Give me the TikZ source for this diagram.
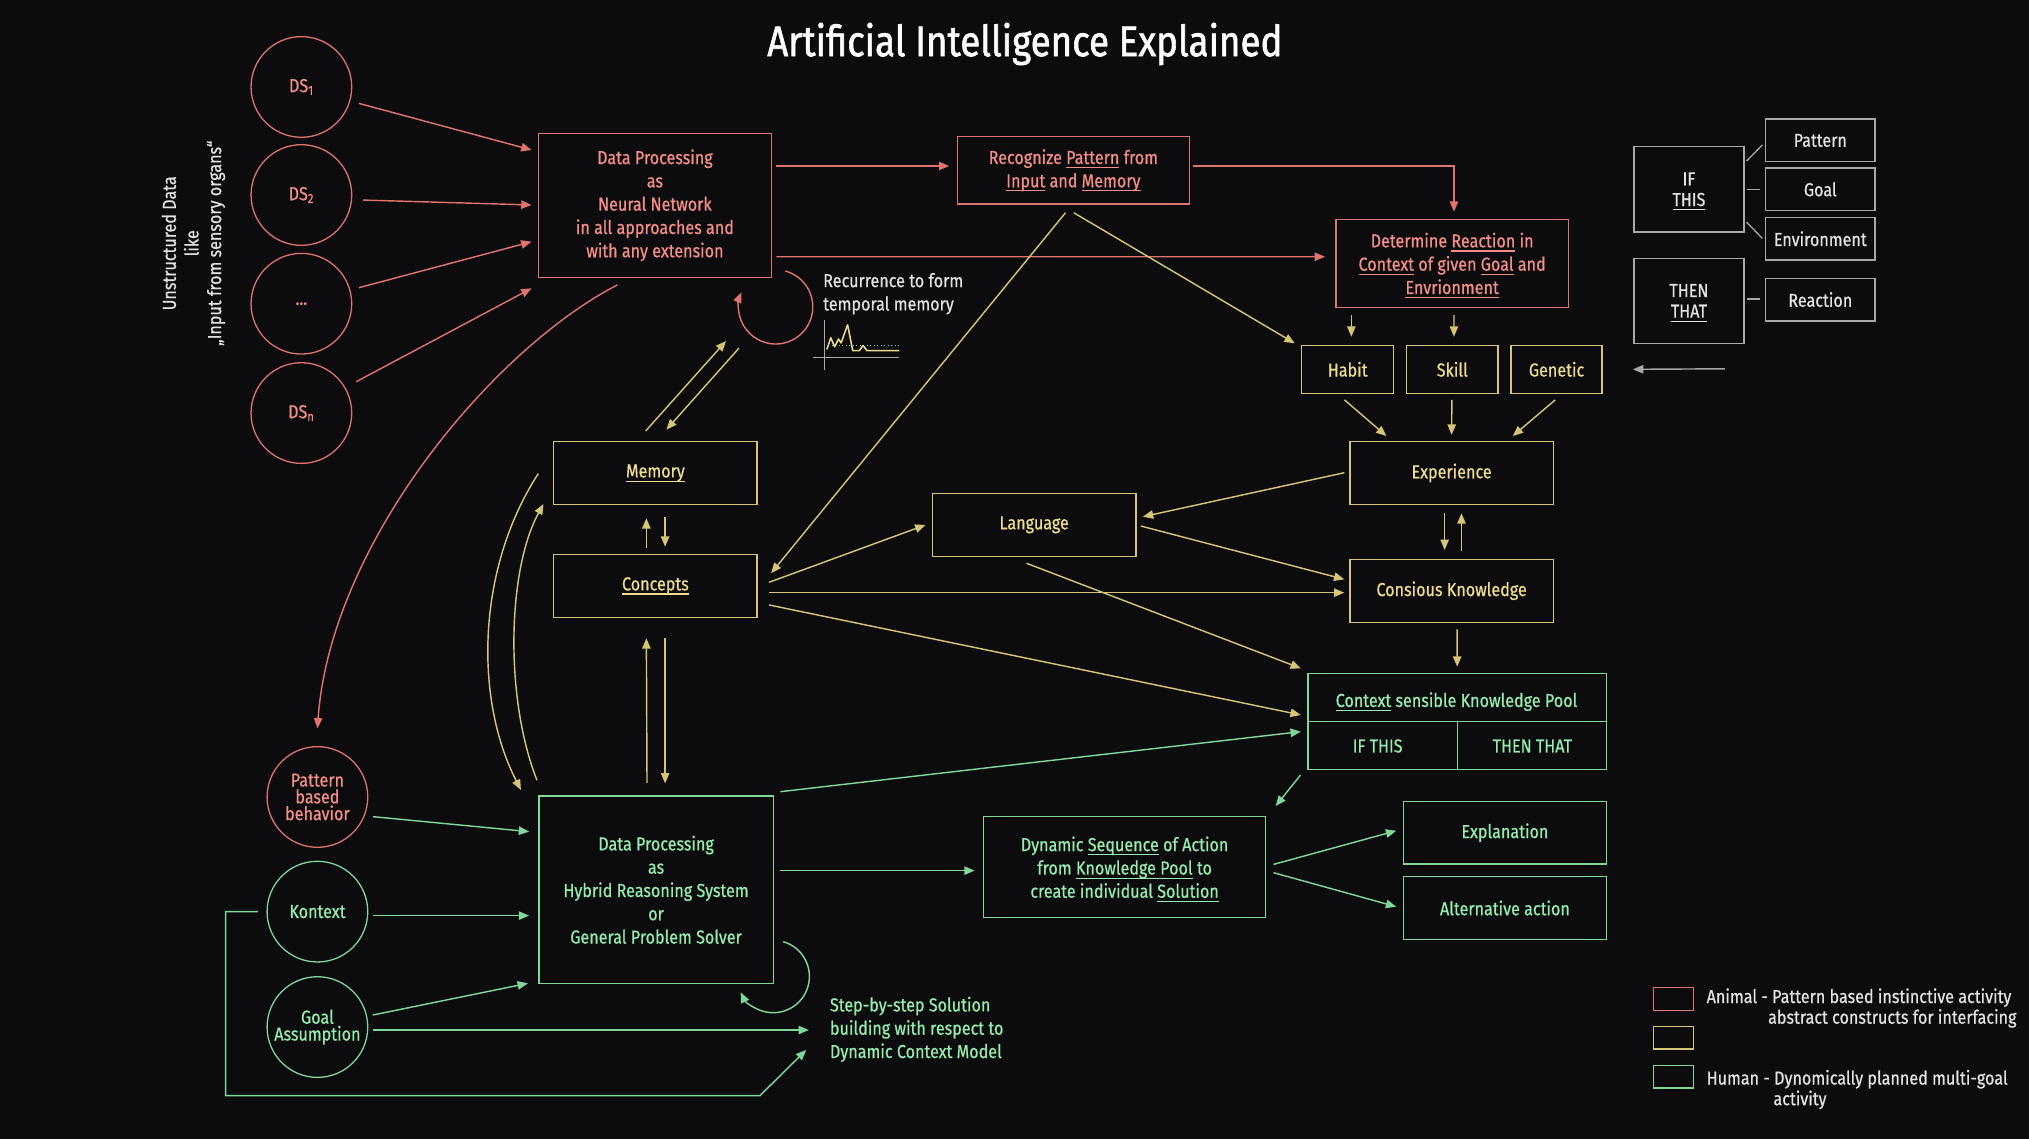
\documentclass[tikz,border=0pt]{standalone}
\usepackage{fontspec}
\setmainfont{Fira Sans}[FakeStretch=0.86, FakeBold=0.7]
\newfontfamily\titlefont{Fira Sans}[FakeStretch=0.86, FakeBold=1.4]
\usetikzlibrary{arrows.meta}
\definecolor{bgc}{HTML}{0C0C0E}
\definecolor{rl}{HTML}{E0736D}
\definecolor{rt}{HTML}{F48E86}
\definecolor{yl}{HTML}{D6C577}
\definecolor{yt}{HTML}{EEDC8E}
\definecolor{gl}{HTML}{7FD89A}
\definecolor{gt}{HTML}{94EDAE}
\definecolor{gyl}{HTML}{A8A8A8}
\definecolor{gyt}{HTML}{E2E2E2}
\newsavebox\ulbox
\newcommand\ulx[1]{\sbox\ulbox{#1}\rlap{\smash{\rule[-3.2pt]{\wd\ulbox}{0.8pt}}}\usebox\ulbox}
\begin{document}
\begin{tikzpicture}[x=1pt,y=-1pt,
 tip/.style={-{Triangle[length=8pt,width=6.5pt]}},
 txt/.style={font=\fontsize{14.5}{18}\selectfont, align=center, inner sep=0pt},
 rbox/.style={txt, draw=rl, line width=1pt, text=rt},
 ybox/.style={txt, draw=yl, line width=1pt, text=yt},
 gbox/.style={txt, draw=gl, line width=1pt, text=gt},
 wbox/.style={txt, draw=gyl, line width=1pt, text=gyt},
 rcirc/.style={rbox, circle, minimum size=77.8},
 gcirc/.style={gbox, circle, minimum size=77.8},
 rar/.style={tip, draw=rl, line width=1.1pt},
 yar/.style={tip, draw=yl, line width=1.1pt},
 gar/.style={tip, draw=gl, line width=1.1pt},
 war/.style={tip, draw=gyl, line width=1.1pt},
 wline/.style={draw=gyl, line width=1pt},
 legtxt/.style={txt, text=gyt},
]
\fill[bgc] (0,0) rectangle (1568,880);
\useasboundingbox (0,0) rectangle (1568,880);

% title
\node[txt, font=\titlefont\fontsize{33}{36}\selectfont, text=white] (title) at (792,34) {Artificial Intelligence Explained};

% left vertical text
\node[txt, rotate=90, text=gyt, font=\fontsize{14.5}{17.5}\selectfont] (unstr) at (149.5,188) {Unstructured Data\\like\\„Input from sensory organs“};

% DS circles
\node[rcirc] (ds1) at (232.9,67.2) {DS\textsubscript{1}};
\node[rcirc] (ds2) at (232.9,150.7) {DS\textsubscript{2}};
\node[rcirc] (dsd) at (232.9,234.7) {...};
\node[rcirc] (dsn) at (232.9,319.2) {DS\textsubscript{n}};

% red boxes
\node[rbox, minimum width=179.8, minimum height=111.3] (nn) at (506.1,158.7)
 {Data Processing\\as\\Neural Network\\in all approaches and\\with any extension};
\node[rbox, minimum width=179, minimum height=52] (rec) at (829.5,131.6)
 {Recognize \ulx{Pattern} from\\\ulx{Input} and \ulx{Memory}};
\node[rbox, minimum width=179.3, minimum height=68.3] (det) at (1122.2,203.6)
 {Determine \ulx{Reaction} in\\\ulx{Context} of given \ulx{Goal} and\\\ulx{Envrionment}};

% yellow boxes
\node[ybox, minimum width=71, minimum height=37] (habit) at (1041.5,285.4) {Habit};
\node[ybox, minimum width=70.5, minimum height=37] (skill) at (1122.3,285.4) {Skill};
\node[ybox, minimum width=70.3, minimum height=37] (genetic) at (1202.9,285.4) {Genetic};
\node[ybox, minimum width=157.2, minimum height=48.4] (exp) at (1121.8,365.5) {Experience};
\node[ybox, minimum width=157.2, minimum height=48.7] (cons) at (1121.8,456.5) {Consious Knowledge};
\node[ybox, minimum width=157.2, minimum height=48.8] (lang) at (799.2,405.6) {Language};
\node[ybox, minimum width=157.1, minimum height=48.4] (mem) at (506.5,365.5) {\ulx{Memory}};
\node[ybox, minimum width=157.1, minimum height=48.6] (conc) at (506.5,452.7) {\ulx{Concepts}};

% recurrence text and chart
\node[txt, text=gyt, align=left, anchor=west] (recur) at (636,227) {Recurrence to form\\temporal memory};
\draw[gyl, line width=0.9pt] (637,247) -- (637,286);
\draw[gyl, line width=0.9pt] (628,276) -- (695,276);
\draw[gl, line width=0.7pt, dotted] (640,267) -- (695,267);
\draw[yt, line width=1.2pt, line join=round] (639,270) -- (642,261) -- (645,268) -- (648,262) -- (650,265) -- (655,251) -- (659,271) -- (664,271) -- (667,267) -- (670,271) -- (695,271);

% green boxes
\node[gbox, minimum width=181, minimum height=145] (hyb) at (507,687.6)
 {Data Processing\\as\\Hybrid Reasoning System\\or\\General Problem Solver};
\node[gbox, minimum width=217.6, minimum height=78.1] (dyn) at (869.1,670.2)
 {Dynamic \ulx{Sequence} of Action\\from \ulx{Knowledge Pool} to\\create individual \ulx{Solution}};
\node[gbox, minimum width=156.5, minimum height=48.4] (expl) at (1163,643.5) {Explanation};
\node[gbox, minimum width=156.5, minimum height=48.4] (alt) at (1163,701.7) {Alternative action};
\node[gbox, minimum width=230.9, minimum height=74.2] (pool) at (1126.2,557.4) {};
\draw[gl, line width=1pt] (pool.west) -- (pool.east);
\draw[gl, line width=1pt] (pool.center) -- (pool.south);
\node[txt, text=gt] (pooltitle) at (1125.6,542.2) {\ulx{Context} sensible Knowledge Pool};
\node[txt, text=gt] (poolif) at (1064.6,576.5) {IF THIS};
\node[txt, text=gt] (poolthen) at (1184.2,576.5) {THEN THAT};

% lower circles
\node[rcirc, font=\fontsize{14.5}{13}\selectfont] (pbb) at (245.3,615.9) {Pattern\\based\\behavior};
\node[gcirc] (kon) at (245.3,704.5) {Kontext};
\node[gcirc, font=\fontsize{14.5}{13}\selectfont] (goal) at (245.3,793.7) {Goal\\Assumption};
\node[txt, text=gt, align=left, anchor=west] (step) at (641.2,795.5) {Step-by-step Solution\\building with respect to\\Dynamic Context Model};

% gray IF THIS group
\node[wbox, minimum width=85, minimum height=66] (ifthis) at (1305.2,146.3) {IF\\[-2pt]\ulx{THIS}};
\node[wbox, minimum width=85, minimum height=66] (thenthat) at (1305.2,232.5) {THEN\\[-2pt]\ulx{THAT}};
\node[wbox, minimum width=84.5, minimum height=33] (pattern) at (1406.7,108.5) {Pattern};
\node[wbox, minimum width=84.5, minimum height=33] (goalw) at (1406.7,146.3) {Goal};
\node[wbox, minimum width=84.5, minimum height=33] (env) at (1406.7,184.5) {Environment};
\node[wbox, minimum width=84.5, minimum height=33] (reaction) at (1406.7,231.5) {Reaction};
\draw[wline] ([shift={(44.6,-21.9)}]ifthis.center) -- ([shift={(-44.8,3.5)}]pattern.center);
\draw[wline] ([shift={(44.6,0)}]ifthis.center) -- ([shift={(-46.7,0)}]goalw.center);
\draw[wline] ([shift={(44.6,25.5)}]ifthis.center) -- ([shift={(-44.8,-0.3)}]env.center);
\draw[wline] ([shift={(44.6,-1.5)}]thenthat.center) -- ([shift={(-46.7,-0.5)}]reaction.center);
\coordinate (gstart) at (1333,285);
\draw[war] (gstart) -- ([shift={(59,0)}]genetic.center);

% legend
\node[draw=rl, line width=1pt, minimum width=30.5, minimum height=17.5, inner sep=0pt] (legr) at (1293.3,772) {};
\node[draw=yl, line width=1pt, minimum width=30.5, minimum height=17.5, inner sep=0pt] (legy) at (1293.3,802) {};
\node[draw=gl, line width=1pt, minimum width=30.5, minimum height=17.5, inner sep=0pt] (legg) at (1293.3,832) {};
\node[legtxt, anchor=west] (leg1) at (1318.7,771) {Animal - Pattern based instinctive activity};
\node[legtxt, anchor=east] (leg2) at (1558.5,787) {abstract constructs for interfacing};
\node[legtxt, anchor=west] (leg3) at (1318.7,834) {Human - Dynomically planned multi-goal};
\node[legtxt] (leg4) at (1391,850) {activity};

% red connectors
\draw[rar] ([shift={(44.5,12.7)}]ds1.center) -- ([shift={(-95.3,-42.8)}]nn.center);
\draw[rar] ([shift={(47.7,3.9)}]ds2.center) -- ([shift={(-95.3,-0.3)}]nn.center);
\draw[rar] ([shift={(44.5,-12.4)}]dsd.center) -- ([shift={(-95.3,28.1)}]nn.center);
\draw[rar] ([shift={(42.3,-24.2)}]dsn.center) -- ([shift={(-95.3,64.1)}]nn.center);
\draw[rar] ([shift={(93.9,-30.4)}]nn.center) -- ([shift={(-96,-3.3)}]rec.center);
\draw[rar] ([shift={(92.7,-3.3)}]rec.center) -| ([shift={(1.4,-40)}]det.center);
\draw[rar] ([shift={(93.9,39.7)}]nn.center) -- ([shift={(-98.2,-5.2)}]det.center);
\draw[rar] ([shift={(-29,61.5)}]nn.center) .. controls +(-97,50) and +(10,-142) .. ([shift={(0,-53)}]pbb.center);
\draw[rar] ([shift={(2.9,22.3)}]nn.south east) ++(-75:28.7) arc[start angle=-75, end angle=203, radius=28.7];

% yellow connectors
\draw[yar] ([shift={(-7.5,-32.5)}]mem.center) -- ([shift={(55,104.8)}]nn.center);
\draw[yar] ([shift={(65,110.3)}]nn.center) -- ([shift={(8.5,-33.5)}]mem.center);
\draw[yar] ([shift={(-7,-29.5)}]conc.center) -- ([shift={(-7,35)}]mem.center);
\draw[yar] ([shift={(7.5,34.3)}]mem.center) -- ([shift={(7.5,-30.2)}]conc.center);
\draw[yar] ([shift={(-7,-82.6)}]hyb.center) -- ([shift={(-7,40.6)}]conc.center);
\draw[yar] ([shift={(7.5,40.3)}]conc.center) -- ([shift={(7,-82.2)}]hyb.center);
\draw[yar] ([shift={(-90.5,0.5)}]mem.center) .. controls +(-48,74) and +(-36,-70) .. ([shift={(-104.4,-77.1)}]hyb.center);
\draw[yar] ([shift={(-92,-84.6)}]hyb.center) .. controls +(-25,-63) and +(-28,51) .. ([shift={(-86.5,24)}]mem.center);
\draw[yar] ([shift={(0.3,32.8)}]rec.center) -- ([shift={(-40.9,-20.1)}]habit.center);
\draw[yar] ([shift={(-6.1,32.8)}]rec.center) -- ([shift={(89.4,-9.7)}]conc.center);
\draw[yar] ([shift={(-77.9,39.8)}]det.center) -- ([shift={(2.8,-25.2)}]habit.center);
\draw[yar] ([shift={(1.4,39.8)}]det.center) -- ([shift={(1.3,-25.2)}]skill.center);
\draw[yar] ([shift={(-2.5,23.6)}]habit.center) -- ([shift={(-50.4,-28.5)}]exp.center);
\draw[yar] ([shift={(-0.3,23.6)}]skill.center) -- ([shift={(0,-29.5)}]exp.center);
\draw[yar] ([shift={(-1,23.6)}]genetic.center) -- ([shift={(47.2,-28.5)}]exp.center);
\draw[yar] ([shift={(-82.9,-0.2)}]exp.center) -- ([shift={(84,-6.3)}]lang.center);
\draw[yar] ([shift={(-5.4,31.2)}]exp.center) -- ([shift={(-5.4,-31.5)}]cons.center);
\draw[yar] ([shift={(7.6,-30.7)}]cons.center) -- ([shift={(7.6,31.2)}]exp.center);
\draw[yar] ([shift={(87.8,-2.7)}]conc.center) -- ([shift={(-84,0.1)}]lang.center);
\draw[yar] ([shift={(87.8,5.3)}]conc.center) -- ([shift={(-82.9,1.5)}]cons.center);
\draw[yar] ([shift={(87.8,14.8)}]conc.center) -- ([shift={(-120.9,-4.9)}]pool.center);
\draw[yar] ([shift={(82.4,0.9)}]lang.center) -- ([shift={(-82.9,-8.8)}]cons.center);
\draw[yar] ([shift={(-5.9,29.7)}]lang.center) -- ([shift={(-120.9,-40.9)}]pool.center);
\draw[yar] ([shift={(4.3,29.8)}]cons.center) -- ([shift={(-0.1,-42.2)}]pool.center);

% green connectors
\draw[gar] ([shift={(42.8,15.2)}]pbb.center) -- ([shift={(-98.1,-44.9)}]hyb.center);
\draw[gar] ([shift={(42.8,3.1)}]kon.center) -- ([shift={(-98.1,20)}]hyb.center);
\draw[gar] ([shift={(42.8,-9.3)}]goal.center) -- ([shift={(-99,72.3)}]hyb.center);
\draw[gar] ([shift={(42.8,2.3)}]goal.center) -- ([shift={(-16.1,0.5)}]step.west);
\draw[gar] ([shift={(-46,0)}]kon.center) -- ++(-25,0) -- ++(0,142.2) -- ++(413,0) -- ([shift={(-18.2,15.9)}]step.west);
\draw[gar] ([shift={(-0.5,-6)}]hyb.south east) ++(-74:28) arc[start angle=-74, end angle=154, radius=28];
\draw[gar] ([shift={(96.1,-14.8)}]hyb.center) -- ([shift={(-115.9,2.6)}]dyn.center);
\draw[gar] ([shift={(96.1,-75.8)}]hyb.center) -- ([shift={(-120.9,8)}]pool.center);
\draw[gar] ([shift={(-121.2,41.6)}]pool.center) -- ([shift={(116.7,-47.3)}]dyn.center);
\draw[gar] ([shift={(115.1,-2.2)}]dyn.center) -- ([shift={(-84,-1.5)}]expl.center);
\draw[gar] ([shift={(115.1,4.2)}]dyn.center) -- ([shift={(-84,-1)}]alt.center);
\end{tikzpicture}
\end{document}
